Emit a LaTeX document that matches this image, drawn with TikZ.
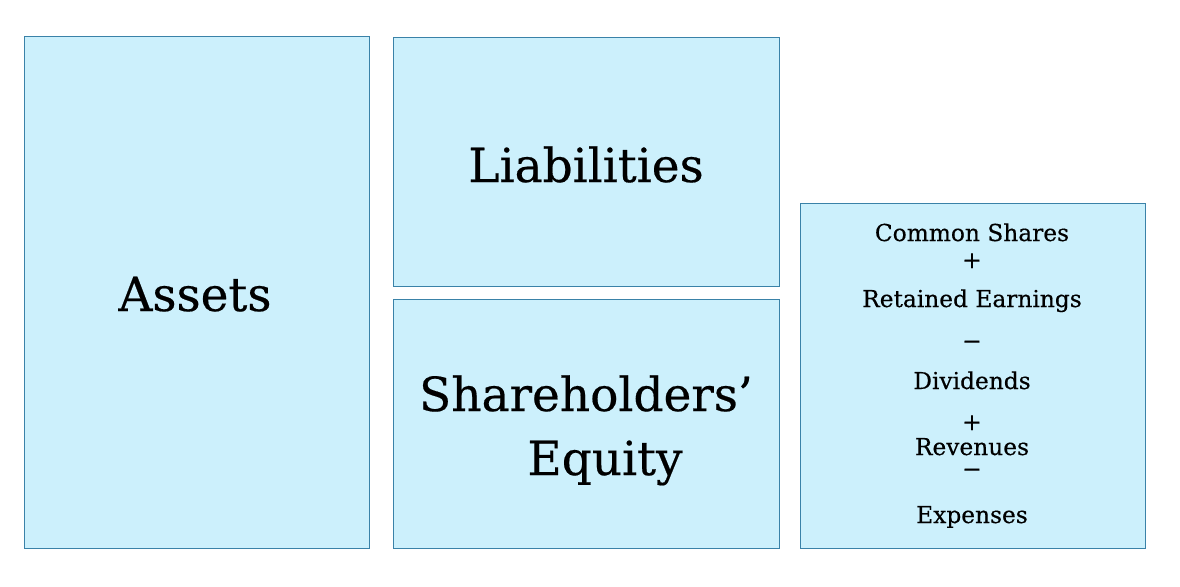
\documentclass[tikz,border=0pt]{standalone}
\usepackage{fontspec}
\setmainfont{DejaVu Serif}[FakeBold=0.4]
\definecolor{boxfill}{HTML}{CCF0FC}
\definecolor{boxline}{HTML}{3A82A8}
\begin{document}
\begin{tikzpicture}[x=1pt,y=-1pt,
  panel/.style={draw=boxline,fill=boxfill,line width=1pt},
  big/.style={font=\fontsize{47}{52}\selectfont,inner sep=0pt,anchor=base},
  small/.style={font=\fontsize{23.3}{26}\selectfont,inner sep=0pt,anchor=base},
  sign/.style={small,text height=0.4em,text depth=0pt}]
\useasboundingbox (0,0) rectangle (1180,586);
\filldraw[panel] (24,37) rectangle (369,548);
\filldraw[panel] (393,38) rectangle (779,286);
\filldraw[panel] (393,299) rectangle (779,548);
\filldraw[panel] (800,203) rectangle (1145,548);
\node[big] (assets) at (195,311) {Assets};
\node[big] (liab) at (586,182) {Liabilities};
\node[big] (sh) at (586,411) {Shareholders’};
\node[big] (eq) at (605,475) {Equity};
\node[small] (cs) at (972,241) {Common Shares};
\node[sign] (p1) at (972,268) {+};
\node[small] (re) at (972,307) {Retained Earnings};
\node[sign] (m1) at (972,349) {−};
\node[small] (dv) at (972,389) {Dividends};
\node[sign] (p2) at (972,430) {+};
\node[small] (rv) at (972,455) {Revenues};
\node[sign] (m2) at (972,477) {−};
\node[small] (ex) at (972,523) {Expenses};
\end{tikzpicture}
\end{document}
